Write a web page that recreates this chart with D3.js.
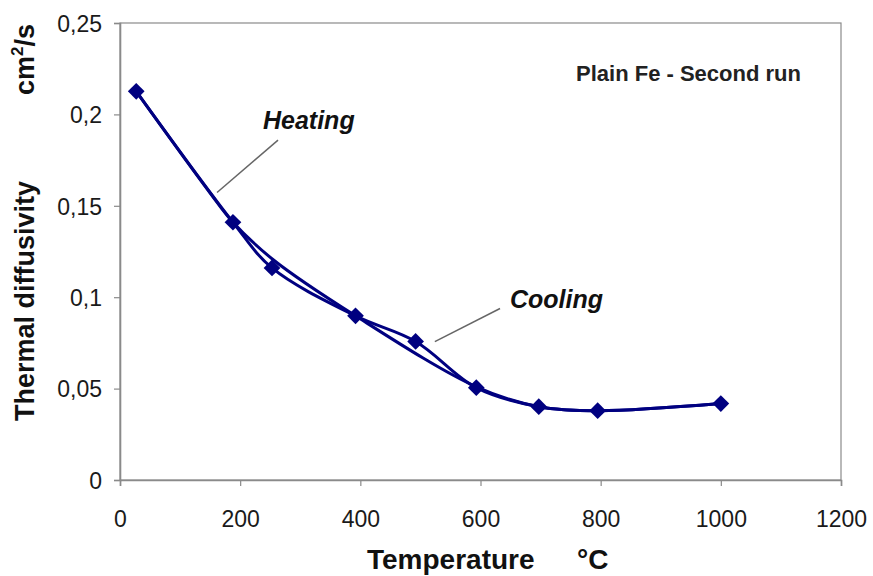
<!DOCTYPE html>
<html>
<head>
<meta charset="utf-8">
<script src="https://cdn.jsdelivr.net/npm/d3@7"></script>
<style>
  html, body { margin: 0; padding: 0; background: #fff; }
  svg { display: block; font-family: Arial, "Liberation Sans", sans-serif; }
</style>
</head>
<body>
<svg id="chart" width="873" height="576"></svg>
<script>
// Plain Fe, second run: thermal diffusivity (cm²/s) versus temperature (°C)
const heatingTemps  = [27, 150, 188, 255, 392, 593, 697, 795, 1000];
const heatingValues = [0.2126, 0.157, 0.141, 0.1205, 0.0898, 0.051, 0.0401, 0.0379, 0.0418];

const coolingTemps  = [1000, 795, 697, 593, 492, 392, 253, 188, 27];
const coolingValues = [0.0418, 0.0379, 0.0401, 0.0505, 0.0758, 0.0898, 0.116, 0.141, 0.2126];

const xTicks = [0, 200, 400, 600, 800, 1000, 1200];
const yTicks = [0, 0.05, 0.1, 0.15, 0.2, 0.25];
const yTickLabels = ["0", "0,05", "0,1", "0,15", "0,2", "0,25"];

const svg = d3.select("#chart");
const x = d3.scaleLinear().domain([0, 1200]).range([120, 841]);
const y = d3.scaleLinear().domain([0, 0.25]).range([480, 23]);

const axisColor = "#8a8a8a";
const lineColor = "#000080";

// plot area frame
svg.append("rect")
  .attr("x", x(0)).attr("y", y(0.25))
  .attr("width", x(1200) - x(0)).attr("height", y(0) - y(0.25))
  .attr("fill", "none").attr("stroke", axisColor).attr("stroke-width", 1.2);

// axes
const xAxis = svg.append("g")
  .attr("transform", `translate(0,${y(0)})`)
  .call(d3.axisBottom(x).tickValues(xTicks).tickSize(6).tickPadding(41).tickFormat(d3.format("d")));
const yAxis = svg.append("g")
  .attr("transform", `translate(${x(0)},0)`)
  .call(d3.axisLeft(y).tickValues(yTicks).tickSize(6).tickPadding(12)
    .tickFormat((d, i) => yTickLabels[i]));

[xAxis, yAxis].forEach(g => {
  g.select(".domain").attr("stroke", axisColor).attr("stroke-width", 1.6);
  g.selectAll(".tick line").attr("stroke", axisColor).attr("stroke-width", 1.2);
  g.selectAll(".tick text").attr("fill", "#1a1a1a").style("font-size", "23px");
});
xAxis.selectAll(".tick text").attr("dy", "0");
yAxis.selectAll(".tick text").attr("dy", "0.36em");

// series
const line = d3.line()
  .x(d => x(d[0]))
  .y(d => y(d[1]))
  .curve(d3.curveCatmullRom.alpha(0.5));

const heating = heatingTemps.map((t, i) => [t, heatingValues[i]]);
const cooling = coolingTemps.map((t, i) => [t, coolingValues[i]]);

svg.append("path").datum(heating)
  .attr("d", line).attr("fill", "none")
  .attr("stroke", lineColor).attr("stroke-width", 3).attr("stroke-linejoin", "round");
svg.append("path").datum(cooling)
  .attr("d", line).attr("fill", "none")
  .attr("stroke", lineColor).attr("stroke-width", 3).attr("stroke-linejoin", "round");

const diamond = d3.symbol().type(d3.symbolSquare).size(140);
svg.append("g").selectAll("path")
  .data(cooling)
  .join("path")
  .attr("d", diamond)
  .attr("transform", d => `translate(${x(d[0])},${y(d[1])}) rotate(45)`)
  .attr("fill", lineColor);

// annotations
svg.append("text")
  .attr("x", x(759)).attr("y", y(0.218))
  .attr("fill", "#222").style("font-size", "22px").style("font-weight", "bold")
  .text("Plain Fe - Second run");

svg.append("line")
  .attr("x1", x(263)).attr("y1", y(0.1859))
  .attr("x2", x(161.5)).attr("y2", y(0.1573))
  .attr("stroke", "#666").attr("stroke-width", 1.5);
svg.append("text")
  .attr("x", x(238)).attr("y", y(0.1919))
  .attr("fill", "#111").style("font-size", "25px")
  .style("font-weight", "bold").style("font-style", "italic")
  .text("Heating");

svg.append("line")
  .attr("x1", x(632.5)).attr("y1", y(0.0938))
  .attr("x2", x(524)).attr("y2", y(0.0757))
  .attr("stroke", "#666").attr("stroke-width", 1.5);
svg.append("text")
  .attr("x", x(649)).attr("y", y(0.0943))
  .attr("fill", "#111").style("font-size", "25px")
  .style("font-weight", "bold").style("font-style", "italic")
  .text("Cooling");

// axis titles
const xTitle = svg.append("text")
  .attr("x", 367).attr("y", 569)
  .attr("fill", "#111").style("font-size", "28px").style("font-weight", "bold");
xTitle.append("tspan").text("Temperature");
xTitle.append("tspan").attr("x", 577).text("°C");

const yTitle = svg.append("text")
  .attr("transform", "translate(34,421) rotate(-90)")
  .attr("fill", "#111").style("font-size", "27px").style("font-weight", "bold");
yTitle.append("tspan").text("Thermal diffusivity");
yTitle.append("tspan").attr("dx", 86).text("cm");
yTitle.append("tspan").attr("dy", -11).style("font-size", "17px").text("2");
yTitle.append("tspan").attr("dy", 11).text("/s");
</script>
</body>
</html>
